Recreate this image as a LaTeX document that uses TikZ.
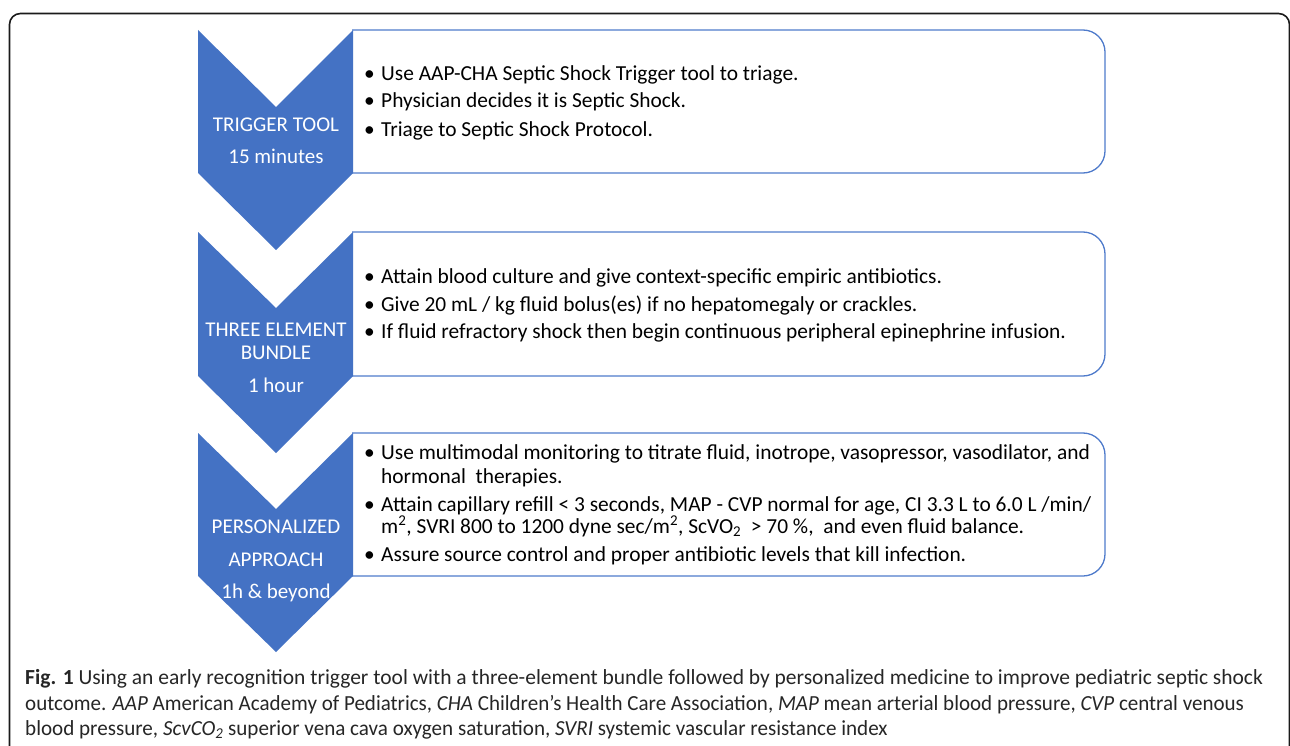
\documentclass[tikz,border=0pt]{standalone}
\usepackage{fontspec}
\setmainfont{Carlito}
\definecolor{chev}{HTML}{4472C4}
\definecolor{boxline}{HTML}{4F7BCB}
\definecolor{frame}{HTML}{1A1A1A}
\tikzset{
  chevshape/.style={fill=chev, draw=none},
  boxshape/.style={draw=boxline, line width=1.3bp, fill=white, rounded corners=22bp},
  chevtext/.style={anchor=base, text=white, inner sep=0pt, font=\fontsize{21bp}{24bp}\selectfont},
  boxtext/.style={anchor=base west, inner sep=0pt, font=\fontsize{21.4bp}{24bp}\selectfont},
  bul/.style={anchor=base, inner sep=0pt, font=\fontsize{21.4bp}{24bp}\selectfont},
  captext/.style={anchor=base west, inner sep=0pt, font=\fontsize{21.5bp}{24bp}\selectfont, text=black!85}
}
\begin{document}
\begin{tikzpicture}[x=1bp,y=-1bp]
\useasboundingbox (0,0) rectangle (1290,746);
\clip (0,0) rectangle (1290,746);
% outer frame
\draw[frame, line width=1.6bp, rounded corners=11bp] (9.5,760) -- (9.5,13.5) -- (1289.5,13.5) -- (1289.5,760);

% boxes
\draw[boxshape] (352,30) -- (1105,30) -- (1105,173) -- (352,173);
\draw[boxshape] (352,232) -- (1105,232) -- (1105,376) -- (352,376);
\draw[boxshape] (352,433) -- (1105,433) -- (1105,576) -- (352,576);

% chevrons
\fill[chevshape] (198,30) -- (276,107) -- (353,30) -- (353,173) -- (276,250) -- (198,173) -- cycle;
\fill[chevshape] (198,232) -- (276,308) -- (353,232) -- (353,376) -- (276,453) -- (198,376) -- cycle;
\fill[chevshape] (198,433) -- (276,509) -- (353,433) -- (353,576) -- (276,652) -- (198,576) -- cycle;

% chevron texts
\node[chevtext] (c1a) at (276,131) {TRIGGER TOOL};
\node[chevtext] (c1b) at (276,163) {15 minutes};
\node[chevtext] (c2a) at (276,336) {THREE ELEMENT};
\node[chevtext] (c2b) at (276,359) {BUNDLE};
\node[chevtext] (c2c) at (276,392) {1 hour};
\node[chevtext] (c3a) at (276,533) {PERSONALIZED};
\node[chevtext] (c3b) at (276,566) {APPROACH};
\node[chevtext] (c3c) at (276,598) {1h \& beyond};

% box 1
\node[bul] (b11) at (369.5,81) {•};
\node[boxtext] (t11) at (381,81) {Use AAP-CHA Septic Shock Trigger tool to triage.};
\node[bul] (b12) at (369.5,108) {•};
\node[boxtext] (t12) at (381,108) {Physician decides it is Septic Shock.};
\node[bul] (b13) at (369.5,136) {•};
\node[boxtext] (t13) at (381,136) {Triage to Septic Shock Protocol.};

% box 2
\node[bul] (b21) at (369.5,283) {•};
\node[boxtext] (t21) at (381,283) {Attain blood culture and give context-specific empiric antibiotics.};
\node[bul] (b22) at (369.5,311) {•};
\node[boxtext] (t22) at (381,311) {Give 20 mL / kg fluid bolus(es) if no hepatomegaly or crackles.};
\node[bul] (b23) at (369.5,338) {•};
\node[boxtext] (t23) at (381,338) {If fluid refractory shock then begin continuous peripheral epinephrine infusion.};

% box 3
\node[bul] (b31) at (369.5,459) {•};
\node[boxtext] (t31) at (381,459) {Use multimodal monitoring to titrate fluid, inotrope, vasopressor, vasodilator, and};
\node[boxtext] (t31b) at (381,483) {hormonal\ \ therapies.};
\node[bul] (b32) at (369.5,511) {•};
\node[boxtext] (t32) at (381,511) {Attain capillary refill < 3 seconds, MAP - CVP normal for age, CI 3.3 L to 6.0 L /min/};
\node[boxtext] (t32b) at (381,533) {m\textsuperscript{2}, SVRI 800 to 1200 dyne sec/m\textsuperscript{2}, ScVO\textsubscript{2}\ \ > 70 \%,\ \ and even fluid balance.};
\node[bul] (b33) at (369.5,561) {•};
\node[boxtext] (t33) at (381,561) {Assure source control and proper antibiotic levels that kill infection.};

% caption
\node[captext] (cap1) at (25,684) {\textbf{Fig. 1} Using an early recognition trigger tool with a three-element bundle followed by personalized medicine to improve pediatric septic shock};
\node[captext] (cap2) at (25,710) {\scalebox{0.977}[1]{outcome. \textit{AAP} American Academy of Pediatrics, \textit{CHA} Children’s Health Care Association, \textit{MAP} mean arterial blood pressure, \textit{CVP} central venous}};
\node[captext] (cap3) at (25,735) {\scalebox{0.981}[1]{blood pressure, \textit{ScvCO\textsubscript{2}} superior vena cava oxygen saturation, \textit{SVRI} systemic vascular resistance index}};
\end{tikzpicture}
\end{document}
